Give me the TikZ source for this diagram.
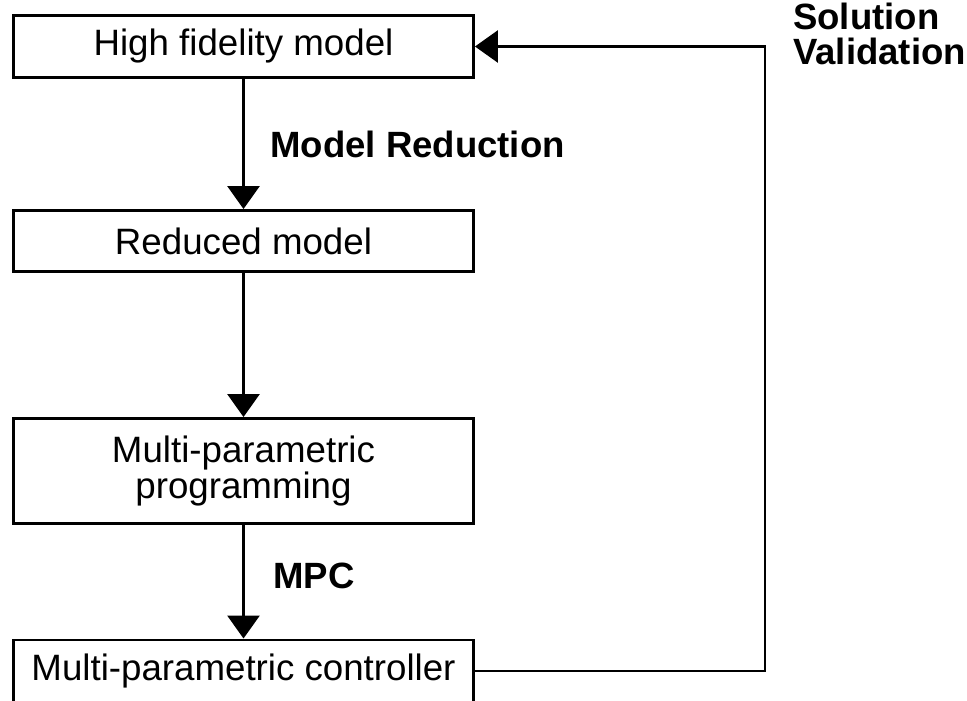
\documentclass[tikz,border=0pt]{standalone}
\usepackage{fontspec}
\setmainfont{Liberation Sans}
\usetikzlibrary{arrows.meta}

\begin{document}
\begin{tikzpicture}[
    box/.style={draw, line width=2.1pt, minimum width=11.5cm, align=center,
      inner sep=0pt, font=\fontsize{26.1}{25}\selectfont},
    flow/.style={line width=2.1pt, -{Triangle[length=0.575cm,width=0.8cm]}},
    lbl/.style={inner sep=0pt, align=left, font=\fontsize{26}{24.9}\selectfont\bfseries}]
    % Fix the page size
    \useasboundingbox (0,0) rectangle (24.175,-17.525);
    % Draw the boxes
    \node[box, minimum height=1.55cm] (hfm) at (6.0875,-1.1625) {High fidelity model};
    \node[box, minimum height=1.525cm] (red) at (6.0875,-6.025) {Reduced model};
    \node[box, minimum height=2.625cm] (mpp) at (6.0875,-11.775)
    {Multi-parametric\\programming};
    \node[box, minimum height=1.55cm] (ctrl) at (6.0875,-16.775)
    {Multi-parametric controller};
    % Draw the arrows
    \draw[flow] (hfm) -- (red);
    \draw[flow] (red) -- (mpp);
    \draw[flow] (mpp) -- (ctrl);
    % Draw the feedback loop
    \coordinate (turn) at (19.125,-16.775);
    \draw[flow] (ctrl.east) -- (turn) |- (hfm.east);
    % Label the steps
    \node[lbl, anchor=base west] (redlbl) at (6.75,-3.95) {Model Reduction};
    \node[lbl, anchor=base west] (mpclbl) at (6.825,-14.7) {MPC};
    \node[lbl, anchor=north west] (vallbl) at (19.825,-0.08) {Solution\\Validation};
\end{tikzpicture}
\end{document}
